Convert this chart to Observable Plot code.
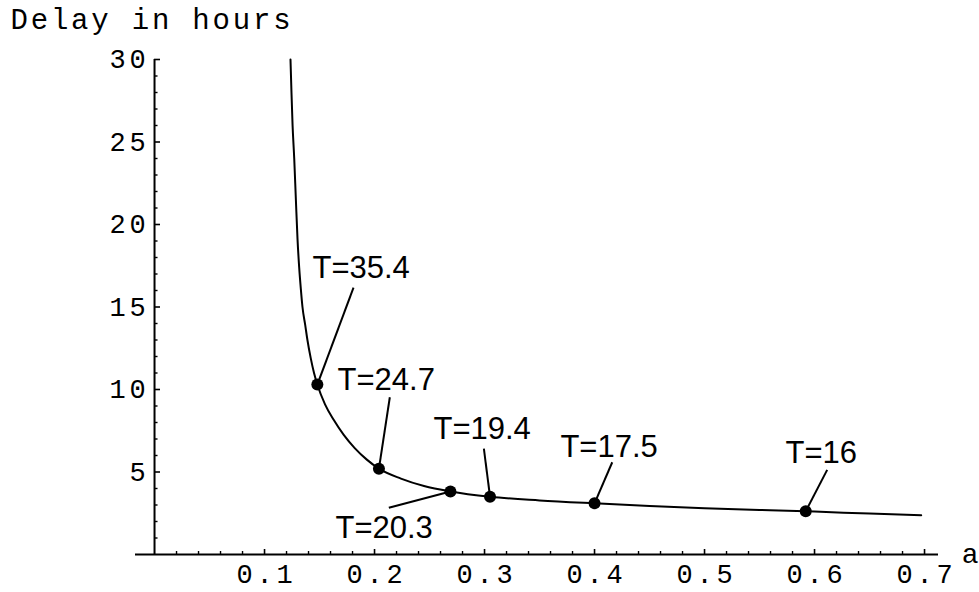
<!DOCTYPE html>
<html>
<head>
<meta charset="utf-8">
<script src="https://cdn.jsdelivr.net/npm/d3@7"></script>
<script src="https://cdn.jsdelivr.net/npm/@observablehq/plot@0.6"></script>
<style>
  html, body { margin: 0; padding: 0; background: #fff; }
  #chart svg { display: block; }
  /* widen the typewriter-style axis text */
  g[font-family="Liberation Mono"][font-size="29"] text { letter-spacing: 2.8px; }
  g[font-family="Liberation Mono"][font-size="27"] text { letter-spacing: 3.8px; }
</style>
</head>
<body>
<div id="chart"></div>
<script>
// Delay curve: delay in hours against the parameter a
const curveA = [0.1236, 0.1245, 0.1255, 0.127, 0.1285, 0.130, 0.1315, 0.133, 0.1345, 0.137,
                0.139, 0.142, 0.145, 0.148, 0.155, 0.163, 0.172, 0.182, 0.193, 0.204,
                0.224, 0.245, 0.269, 0.305, 0.35, 0.4, 0.45, 0.5, 0.55, 0.6, 0.65, 0.697];
const curveDelay = [30, 28, 26, 24, 21.5, 19.1, 17.4, 16.1, 15.0, 13.9,
                    13.0, 11.9, 11.0, 10.3, 9.1, 8.15, 7.25, 6.45, 5.75, 5.2,
                    4.6, 4.15, 3.82, 3.5, 3.28, 3.1, 2.94, 2.8, 2.7, 2.6, 2.48, 2.38];

// Marked points on the curve and their period labels
const pointA = [0.148, 0.204, 0.269, 0.305, 0.4, 0.592];
const pointDelay = [10.3, 5.2, 3.82, 3.5, 3.1, 2.62];
const pointLabels = ["T=35.4", "T=24.7", "T=20.3", "T=19.4", "T=17.5", "T=16"];

// Label anchors (left end of text baseline) and leader-line starts, in data units
const labelA = [0.1436, 0.1664, 0.1645, 0.2536, 0.369, 0.5736];
const labelDelay = [16.73, 9.94, 0.97, 7.03, 5.88, 5.52];
const leaderA = [0.1809, 0.2139, 0.213, 0.2994, 0.4161, 0.6115];
const leaderDelay = [16.18, 9.53, 2.83, 6.41, 5.59, 5.13];

// Axes
const xTickValues = [0.1, 0.2, 0.3, 0.4, 0.5, 0.6, 0.7];
const yTickValues = [5, 10, 15, 20, 25, 30];
const xLabel = "a";
const yLabel = "Delay in hours";
const xDomain = [-0.0173, 0.7127];
const yDomain = [0, 30];

// Layout
const W = 979, H = 592;
const mL = 135, mR = 41, mT = 59, mB = 38;
const frameW = W - mL - mR, frameH = H - mT - mB;
const axisPx = (0 - xDomain[0]) / (xDomain[1] - xDomain[0]) * frameW; // y-axis offset inside the frame

const xMinor = d3.range(1, 36).map(i => i * 0.02).filter(v => Math.abs(v * 10 - Math.round(v * 10)) > 1e-6);
const yMinor = d3.range(1, 31).filter(v => v % 5 !== 0);

const curve = curveA.map((a, i) => ({a, delay: curveDelay[i]}));
const points = pointA.map((a, i) => ({
  a, delay: pointDelay[i], label: pointLabels[i],
  la: labelA[i], ld: labelDelay[i], sa: leaderA[i], sd: leaderDelay[i]
}));

const mono = {fontFamily: "Liberation Mono", fontSize: 29, fill: "black"};
const monoTick = {fontFamily: "Liberation Mono", fontSize: 27, fill: "black"};

const chart = Plot.plot({
  width: W, height: H,
  marginLeft: mL, marginRight: mR, marginTop: mT, marginBottom: mB,
  x: {domain: xDomain, axis: null},
  y: {domain: yDomain, axis: null},
  style: {background: "white", overflow: "visible"},
  marks: [
    // axis lines
    Plot.ruleY([0], {stroke: "black", strokeWidth: 2}),
    Plot.ruleX([0], {stroke: "black", strokeWidth: 2}),
    // x ticks point up from the axis
    Plot.tickX(xTickValues, {x: d => d, insetTop: frameH - 5, stroke: "black", strokeWidth: 1.6}),
    Plot.tickX(xMinor, {x: d => d, insetTop: frameH - 3, stroke: "black", strokeWidth: 1.4}),
    // y ticks point right from the axis
    Plot.tickY(yTickValues, {y: d => d, insetLeft: axisPx, insetRight: frameW - axisPx - 6, stroke: "black", strokeWidth: 1.6}),
    Plot.tickY(yMinor, {y: d => d, insetLeft: axisPx, insetRight: frameW - axisPx - 3.5, stroke: "black", strokeWidth: 1.4}),
    // tick labels
    Plot.text(xTickValues, {x: d => d, y: () => 0, text: d => d.toFixed(1), dy: 20, dx: 1.9, lineAnchor: "middle", ...monoTick}),
    Plot.text(yTickValues, {x: () => 0, y: d => d, text: d => String(d), dx: -5, textAnchor: "end", lineAnchor: "middle", ...monoTick}),
    // axis names
    Plot.text([xLabel], {x: () => xDomain[1], y: () => 0, text: d => d, dx: 40, textAnchor: "end", lineAnchor: "middle",
      fontFamily: "Liberation Mono", fontSize: 28, fill: "black"}),
    Plot.text([yLabel], {frameAnchor: "top-left", text: d => d, dx: 10 - mL, dy: 28 - mT, textAnchor: "start", lineAnchor: "bottom", ...mono}),
    // delay curve
    Plot.line(curve, {x: "a", y: "delay", curve: "monotone-x", stroke: "black", strokeWidth: 2}),
    // leader lines, points and labels
    Plot.link(points, {x1: "sa", y1: "sd", x2: "a", y2: "delay", stroke: "black", strokeWidth: 2}),
    Plot.dot(points, {x: "a", y: "delay", r: 6, fill: "black", stroke: "none"}),
    Plot.text(points, {x: "la", y: "ld", text: "label", textAnchor: "start", lineAnchor: "bottom",
      fontFamily: "Liberation Sans", fontSize: 31, fill: "black"})
  ]
});

document.getElementById("chart").appendChild(chart);
</script>
</body>
</html>
